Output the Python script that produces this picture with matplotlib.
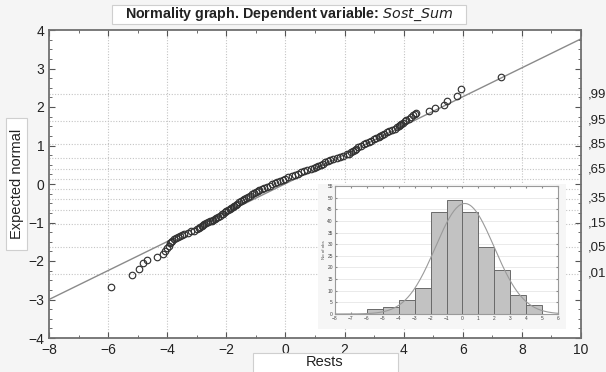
import numpy as np
import matplotlib.pyplot as plt
from matplotlib.patches import Rectangle
from matplotlib.ticker import MultipleLocator
from statistics import NormalDist

plt.rcParams['font.family'] = ['Liberation Sans', 'DejaVu Sans']

# residuals (x) and expected normal values (y)
rests = [-5.91, -5.18, -4.95, -4.81, -4.67, -4.36, -4.15, -4.08, -4.00, -3.95,
         -3.91, -3.87, -3.84, -3.78, -3.70, -3.64, -3.57, -3.49, -3.43,
         -3.31, -3.18, -3.09, -2.98, -2.93, -2.88, -2.83, -2.80,
         -2.74, -2.68, -2.62, -2.56, -2.50, -2.46, -2.40, -2.34, -2.28, -2.22,
         -2.16, -2.12, -2.06, -2.00, -1.95, -1.89, -1.83, -1.79, -1.73, -1.68,
         -1.63, -1.57, -1.52, -1.45, -1.39, -1.32, -1.25, -1.19, -1.12, -1.06,
         -0.99, -0.92, -0.88, -0.80, -0.71, -0.62, -0.53, -0.44, -0.36, -0.27,
         -0.18, -0.09, 0.00, 0.09, 0.22, 0.32, 0.43, 0.53, 0.64, 0.74, 0.85,
         0.95, 1.02, 1.11, 1.19, 1.27, 1.35, 1.43, 1.51, 1.62, 1.73, 1.84,
         1.95, 2.07, 2.14, 2.22, 2.28, 2.35, 2.39, 2.47, 2.56, 2.65, 2.73,
         2.82, 2.91, 3.01, 3.08, 3.15, 3.21, 3.28, 3.35, 3.43, 3.52, 3.61,
         3.70, 3.79, 3.83, 3.88, 3.92, 3.97, 4.03, 4.09, 4.17, 4.25, 4.31,
         4.37, 4.41, 4.86, 5.06, 5.37, 5.45, 5.82, 5.94, 7.28]
expected = [-2.68, -2.36, -2.20, -2.06, -1.97, -1.90, -1.82, -1.73, -1.67, -1.60,
            -1.54, -1.50, -1.47, -1.44, -1.41, -1.38, -1.35, -1.32, -1.29,
            -1.26, -1.23, -1.21, -1.18, -1.15, -1.12, -1.09, -1.07,
            -1.05, -1.02, -0.99, -0.97, -0.95, -0.93, -0.91, -0.88, -0.85, -0.82,
            -0.79, -0.77, -0.74, -0.71, -0.68, -0.65, -0.62, -0.60, -0.57, -0.54,
            -0.51, -0.48, -0.45, -0.42, -0.39, -0.36, -0.33, -0.30, -0.27, -0.24,
            -0.21, -0.18, -0.16, -0.13, -0.10, -0.07, -0.04, -0.01, 0.02, 0.05,
            0.08, 0.11, 0.14, 0.17, 0.21, 0.24, 0.27, 0.30, 0.33, 0.36, 0.39,
            0.42, 0.44, 0.47, 0.50, 0.53, 0.56, 0.59, 0.62, 0.65, 0.68, 0.71,
            0.74, 0.77, 0.79, 0.82, 0.85, 0.89, 0.92, 0.96, 1.00, 1.03, 1.06,
            1.09, 1.12, 1.16, 1.19, 1.22, 1.25, 1.28, 1.31, 1.34, 1.37, 1.40,
            1.43, 1.47, 1.50, 1.53, 1.56, 1.59, 1.63, 1.66, 1.70, 1.74, 1.78,
            1.82, 1.85, 1.90, 1.97, 2.05, 2.16, 2.29, 2.46, 2.79]

# fitted line end points
line_x = [-8, 10]
line_y = [-3.0, 3.77]

# probability levels on the right axis
prob_grid = [0.01, 0.05, 0.15, 0.25, 0.35, 0.45, 0.55, 0.65, 0.75, 0.85, 0.95, 0.99]
prob_labels = [0.01, 0.05, 0.15, 0.35, 0.65, 0.85, 0.95, 0.99]

# histogram inset
bin_edges = [-6, -5, -4, -3, -2, -1, 0, 1, 2, 3, 4, 5]
counts = [2, 3, 6, 11, 44, 49, 44, 29, 19, 8, 4]
fit_mean, fit_sd = 0.15, 1.84

W, H = 606, 372
fig = plt.figure(figsize=(W / 100, H / 100), dpi=100, facecolor='#f5f5f5')


def px_box(x0, y0, x1, y1, **kw):
    # rectangle given in picture pixels (origin top-left)
    fig.patches.append(Rectangle((x0 / W, 1 - y1 / H), (x1 - x0) / W, (y1 - y0) / H,
                                 transform=fig.transFigure, **kw))


ax = fig.add_axes([49 / W, 1 - 338 / H, 532 / W, 308 / H])
ax.set_facecolor('white')

nd = NormalDist()
for p in prob_grid:
    ax.axhline(nd.inv_cdf(p), color='#c4c4c4', lw=0.8, ls=(0, (1, 1.5)), zorder=0)
for xv in range(-6, 10, 2):
    ax.axvline(xv, color='#c4c4c4', lw=0.8, ls=(0, (1, 1.5)), zorder=0)

ax.plot(line_x, line_y, color='#8a8a8a', lw=1.0, zorder=2)
ax.plot(rests, expected, 'o', mfc='none', mec='#333333', ms=4.7, mew=0.85, zorder=3)

ax.set_xlim(-8, 10)
ax.set_ylim(-4, 4)
ax.xaxis.set_major_locator(MultipleLocator(2))
ax.xaxis.set_minor_locator(MultipleLocator(1))
ax.yaxis.set_major_locator(MultipleLocator(1))
ax.yaxis.set_minor_locator(MultipleLocator(0.25))
ax.tick_params(which='both', direction='in', top=True, right=True, color='#555555')
ax.tick_params(which='major', length=4, labelsize=10, labelcolor='#222222')
ax.tick_params(which='minor', length=2.5)
for s in ax.spines.values():
    s.set_color('#707070')
    s.set_linewidth(1.3)

# right-hand probability labels
for p in prob_labels:
    ax.text(1.012, nd.inv_cdf(p), (',%02d' % round(p * 100)), transform=ax.get_yaxis_transform(),
            ha='left', va='center', fontsize=9.5, color='#222222')

# title and axis label boxes
px_box(112, 5, 466, 24, fc='white', ec='#cfcfcf', lw=0.8)
fig.text(289 / W, 1 - 14.5 / H, 'Normality graph. Dependent variable: $\\it{Sost\\_Sum}$',
         ha='center', va='center', fontsize=10.3, fontweight='bold', color='#222222')
px_box(253, 353, 398, 375, fc='white', ec='#cfcfcf', lw=0.8)
fig.text(325 / W, 1 - 362 / H, 'Rests', ha='center', va='center', fontsize=10.5, color='#222222')
px_box(6, 118, 27, 250, fc='white', ec='#cfcfcf', lw=0.8)
fig.text(17 / W, 1 - 184 / H, 'Expected normal', ha='center', va='center', rotation=90,
         fontsize=10.5, color='#222222')

# inset background and histogram
bg = fig.add_axes([318 / W, 1 - 329 / H, 248 / W, 145 / H])
bg.set_facecolor('#f6f6f6')
bg.set_xticks([])
bg.set_yticks([])
for s in bg.spines.values():
    s.set_visible(False)

ins = fig.add_axes([335 / W, 1 - 314 / H, 223 / W, 128 / H])
ins.set_facecolor('white')
ins.bar(bin_edges[:-1], counts, width=1, align='edge', color='#c2c2c2', edgecolor='#6a6a6a', lw=0.7, zorder=2)
xs = np.linspace(-8, 6, 200)
pdf = sum(counts) / (fit_sd * np.sqrt(2 * np.pi)) * np.exp(-0.5 * ((xs - fit_mean) / fit_sd) ** 2)
ins.plot(xs, pdf, color='#9a9a9a', lw=0.8, zorder=3)
ins.set_xlim(-8, 6)
ins.set_ylim(0, 55)
ins.set_xticks(range(-8, 7))
ins.set_yticks(range(0, 56, 5))
ins.yaxis.grid(True, color='#e6e6e6', lw=0.6)
ins.set_axisbelow(True)
ins.tick_params(direction='in', top=True, right=True, length=1.5, labelsize=3.5, color='#888888',
                labelcolor='#444444', pad=1.5)
ins.set_ylabel('No of obs', fontsize=3.2, color='#555555', labelpad=1)
for s in ins.spines.values():
    s.set_color('#9a9a9a')
    s.set_linewidth(0.8)

fig.savefig('out.png', dpi=100, facecolor=fig.get_facecolor())
